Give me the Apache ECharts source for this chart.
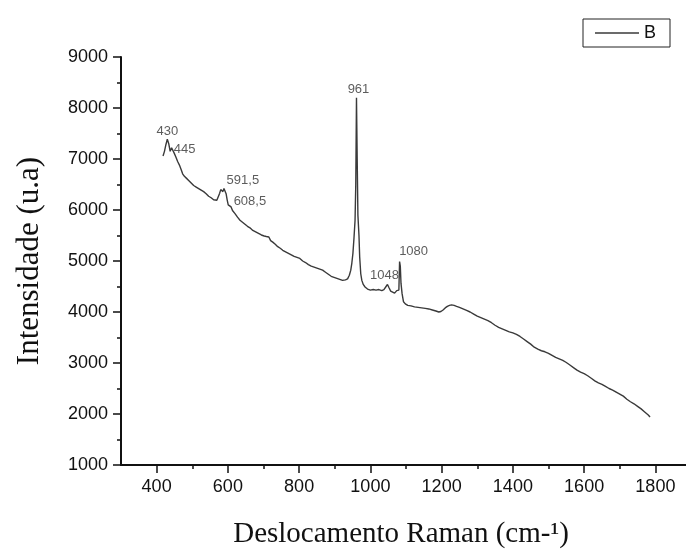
<!DOCTYPE html>
<html>
<head>
<meta charset="utf-8">
<script src="https://cdn.jsdelivr.net/npm/echarts@6/dist/echarts.min.js"></script>
<style>
  html, body { margin: 0; padding: 0; background: #fff; }
  #chart { width: 686px; height: 550px; }
</style>
</head>
<body>
<div id="chart"></div>
<script>
// raman spectrum, sample B
var ramanShift = [418, 422, 426, 430, 434, 438, 442, 445, 449, 454, 459, 464, 469, 473, 478, 484, 490, 497, 504, 511,
  518, 525, 532, 539, 546, 553, 560, 565, 569, 573, 577, 580, 583, 586, 589, 592, 595, 598, 601, 605,
  609, 613, 620, 627, 634, 641, 648, 655, 662, 670, 678, 686, 694, 702, 708, 712, 715, 720, 726, 733,
  740, 747, 754, 762, 770, 778, 786, 794, 802, 810, 818, 826, 834, 842, 850, 858, 866, 874, 882, 890,
  898, 906, 914, 922, 930, 936, 941, 945, 948, 951, 954, 957, 959, 961, 963, 965, 968, 970, 973, 976,
  980, 985, 992, 1000, 1008, 1016, 1024, 1032, 1038, 1044, 1048, 1052, 1057, 1062, 1068, 1074, 1078, 1080, 1082, 1084,
  1086, 1089, 1093, 1098, 1105, 1114, 1124, 1134, 1144, 1154, 1164, 1174, 1184, 1192, 1198, 1204, 1210, 1216, 1222, 1228,
  1235, 1242, 1250, 1260, 1270, 1280, 1290, 1300, 1310, 1320, 1330, 1340, 1350, 1360, 1370, 1380, 1390, 1400, 1410, 1420,
  1430, 1440, 1450, 1460, 1470, 1480, 1490, 1500, 1510, 1520, 1530, 1540, 1550, 1560, 1570, 1580, 1590, 1600, 1610, 1620,
  1630, 1640, 1650, 1660, 1670, 1680, 1690, 1700, 1710, 1720, 1730, 1740, 1750, 1760, 1770, 1780, 1785];
var intensity = [7060, 7150, 7280, 7390, 7300, 7150, 7220, 7240, 7120, 7040, 6950, 6880, 6790, 6710, 6660, 6620, 6580, 6530, 6480, 6450,
  6420, 6390, 6360, 6320, 6270, 6240, 6200, 6170, 6190, 6260, 6330, 6400, 6370, 6360, 6420, 6440, 6320, 6200, 6100, 6070,
  6060, 5990, 5930, 5860, 5800, 5760, 5720, 5680, 5650, 5600, 5570, 5540, 5510, 5490, 5480, 5510, 5470, 5400, 5370, 5330,
  5280, 5250, 5210, 5180, 5150, 5120, 5090, 5070, 5050, 5000, 4970, 4930, 4900, 4880, 4860, 4840, 4820, 4780, 4740, 4700,
  4680, 4660, 4640, 4620, 4630, 4650, 4720, 4820, 4960, 5150, 5450, 5800, 6500, 8200, 7000, 5900, 5500, 5080, 4750, 4620,
  4540, 4490, 4450, 4430, 4440, 4430, 4440, 4420, 4440, 4500, 4540, 4480, 4410, 4390, 4370, 4420, 4440, 4430, 4990, 4900,
  4560, 4360, 4200, 4160, 4130, 4120, 4100, 4090, 4080, 4070, 4060, 4040, 4020, 4000, 4010, 4040, 4080, 4110, 4130, 4140,
  4130, 4110, 4090, 4060, 4030, 4000, 3960, 3920, 3890, 3860, 3830, 3790, 3740, 3700, 3670, 3640, 3610, 3590, 3560, 3520,
  3470, 3420, 3370, 3310, 3270, 3240, 3220, 3190, 3150, 3110, 3080, 3050, 3010, 2960, 2910, 2860, 2820, 2790, 2750, 2700,
  2650, 2610, 2580, 2540, 2500, 2470, 2430, 2390, 2350, 2290, 2240, 2200, 2150, 2100, 2040, 1980, 1940];

// peak annotations
var peakLabels = ['430', '445', '591,5', '608,5', '961', '1048', '1080'];
var peakShift = [430, 445, 591.5, 608.5, 961, 1048, 1082];
var peakIntensity = [7390, 7240, 6440, 6060, 8200, 4540, 4990];
var peakOffsets = [[0, -8], [12, 3], [18, -7], [19, -6], [2, -8], [-3, -9], [14, -10]];

var xMajorTicks = [400, 600, 800, 1000, 1200, 1400, 1600, 1800];
var xMinorTicks = [500, 700, 900, 1100, 1300, 1500, 1700];

var chart = echarts.init(document.getElementById('chart'));

var lineData = ramanShift.map(function (x, i) { return [x, intensity[i]]; });
var peakData = peakLabels.map(function (t, i) {
  return {
    value: [peakShift[i], peakIntensity[i]],
    label: { formatter: t, offset: peakOffsets[i] }
  };
});

var sans = 'Liberation Sans';
var serif = 'Liberation Serif';
var plain = function (v) { return String(v); };

chart.setOption({
  animation: false,
  backgroundColor: '#fff',
  grid: { left: 121, right: -5, top: 57, bottom: 85, outerBoundsMode: 'none', containLabel: false },
  legend: {
    data: [{ name: 'B', icon: 'rect' }],
    left: 583,
    top: 19,
    selectedMode: false,
    borderColor: '#222',
    borderWidth: 1,
    borderRadius: 0,
    padding: [5, 14, 5, 12],
    itemWidth: 44,
    itemHeight: 1.3,
    itemGap: 5,
    itemStyle: { color: '#3a3a3a', borderWidth: 0 },
    textStyle: { fontFamily: sans, fontSize: 18, color: '#111' }
  },
  xAxis: [{
    type: 'value',
    min: 300,
    max: 1900,
    splitLine: { show: false },
    axisLine: { onZero: false, lineStyle: { color: '#111', width: 2 } },
    axisTick: { customValues: xMajorTicks, length: 8, lineStyle: { color: '#111', width: 1.5 } },
    axisLabel: { customValues: xMajorTicks, formatter: plain, margin: 13, fontFamily: sans, fontSize: 18, color: '#111' },
    name: 'Deslocamento Raman (cm-¹)',
    nameLocation: 'middle',
    nameGap: 55,
    nameTextStyle: { fontFamily: serif, fontSize: 29, color: '#111', padding: [0, 10, 0, 0] }
  }, {
    type: 'value',
    min: 300,
    max: 1900,
    position: 'bottom',
    splitLine: { show: false },
    axisLine: { show: false },
    axisTick: { customValues: xMinorTicks, length: 4, lineStyle: { color: '#111', width: 1.5 } },
    axisLabel: { show: false }
  }],
  yAxis: {
    type: 'value',
    min: 1000,
    max: 9000,
    interval: 1000,
    splitLine: { show: false },
    axisLine: { show: true, onZero: false, lineStyle: { color: '#111', width: 2 } },
    axisTick: { show: true, length: 8, lineStyle: { color: '#111', width: 1.5 } },
    minorTick: { show: true, splitNumber: 2, length: 4, lineStyle: { color: '#111', width: 1.5 } },
    axisLabel: { formatter: plain, margin: 13, fontFamily: sans, fontSize: 18, color: '#111' },
    name: 'Intensidade (u.a)',
    nameLocation: 'middle',
    nameGap: 76,
    nameTextStyle: { fontFamily: serif, fontSize: 31, color: '#111' }
  },
  series: [{
    name: 'B',
    type: 'line',
    data: lineData,
    symbol: 'none',
    smooth: false,
    lineStyle: { color: '#3a3a3a', width: 1.4 },
    itemStyle: { color: '#3a3a3a' }
  }, {
    name: 'peaks',
    type: 'scatter',
    data: peakData,
    symbolSize: 0,
    silent: true,
    label: {
      show: true,
      position: 'inside',
      fontFamily: sans,
      fontSize: 13,
      color: '#333'
    }
  }]
});
</script>
</body>
</html>
